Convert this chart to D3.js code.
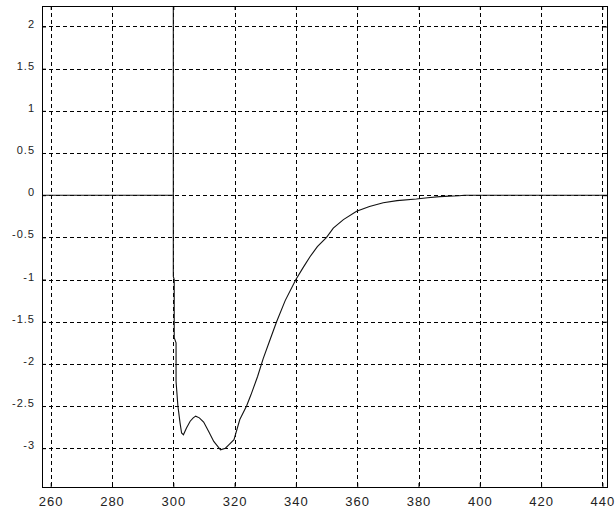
<!DOCTYPE html>
<html>
<head>
<meta charset="utf-8">
<script src="https://cdn.jsdelivr.net/npm/d3@7"></script>
<style>
  body { margin: 0; background: #fff; }
  svg { display: block; }
  .tick text { font-family: "Liberation Sans", Arial, sans-serif; fill: #222; }
</style>
</head>
<body>
<div id="chart"></div>
<script>
// tick values
let xTicks = [260, 280, 300, 320, 340, 360, 380, 400, 420, 440];
let yTicks = [2, 1.5, 1, 0.5, 0, -0.5, -1, -1.5, -2, -2.5, -3];

// curve
let curveX = [257, 300, 300, 300, 300.3, 300.3, 300.9, 300.9, 301.5, 302.2, 302.7, 303.3, 304.3, 305.5, 306.5,
    307.3, 308.5, 309.9, 311.5, 313.2, 315.4, 317, 318.1, 319.8, 321.7, 323.9, 325.3, 327.5, 329.3, 331.5,
    333.7, 336.5, 340.0, 342.5, 344.6, 347, 350.0, 352.2, 355.5, 359.8, 364, 368.5, 373, 379.3, 383,
    386.9, 390, 393.2, 395, 442];
let curveY = [0, 0, 10, -0.964, -1.0, -1.69, -1.75, -2.21, -2.5, -2.7, -2.82, -2.84, -2.76, -2.68, -2.64,
    -2.62, -2.64, -2.69, -2.8, -2.92, -3.02, -3.0, -2.96, -2.9, -2.66, -2.5, -2.37, -2.15, -1.94, -1.72,
    -1.5, -1.25, -1.0, -0.85, -0.73, -0.61, -0.5, -0.39, -0.29, -0.19, -0.135, -0.09, -0.065, -0.045, -0.03,
    -0.017, -0.011, -0.006, 0, 0];

const W = 615, H = 510;
const margin = { top: 6, left: 42, right: 8, bottom: 23 };
const iw = W - margin.left - margin.right;
const ih = H - margin.top - margin.bottom;

const svg = d3.select('#chart')
    .append('svg')
    .attr('width', W)
    .attr('height', H);

const g = svg.append('g')
    .attr('transform', 'translate(' + margin.left + ',' + margin.top + ')');

const x = d3.scaleLinear().domain([257.16, 441.5]).range([0, iw]);
const y = d3.scaleLinear().domain([-3.46, 2.243]).range([ih, 0]);

// dashed grid
g.append('g')
    .selectAll('line')
    .data(xTicks)
    .enter()
    .append('line')
    .attr('x1', d => Math.round(x(d)) + 0.5)
    .attr('x2', d => Math.round(x(d)) + 0.5)
    .attr('y1', 0)
    .attr('y2', ih)
    .attr('stroke', '#000')
    .attr('stroke-dasharray', '4,3');

g.append('g')
    .selectAll('line')
    .data(yTicks)
    .enter()
    .append('line')
    .attr('x1', 0)
    .attr('x2', iw)
    .attr('y1', d => Math.round(y(d)) + 0.5)
    .attr('y2', d => Math.round(y(d)) + 0.5)
    .attr('stroke', '#000')
    .attr('stroke-dasharray', '4,3');

// curve
svg.append('defs').append('clipPath')
    .attr('id', 'clip')
    .append('rect')
    .attr('width', iw)
    .attr('height', ih);

const line = d3.line()
    .x(d => x(d[0]))
    .y(d => y(d[1]));

g.append('path')
    .datum(d3.zip(curveX, curveY))
    .attr('clip-path', 'url(#clip)')
    .attr('fill', 'none')
    .attr('stroke', '#111')
    .attr('stroke-width', 1.1)
    .attr('d', line);

// axes, ticks pointing inward
g.append('g')
    .attr('transform', 'translate(0,' + ih + ')')
    .call(d3.axisBottom(x).tickValues(xTicks).tickSizeInner(-4).tickSizeOuter(0).tickPadding(9.5))
    .call(a => a.select('.domain').remove())
    .selectAll('text')
    .style('font-size', '13px')
    .style('letter-spacing', '1px');

g.append('g')
    .call(d3.axisTop(x).tickValues(xTicks).tickSizeInner(-4).tickSizeOuter(0).tickFormat(''))
    .call(a => a.select('.domain').remove());

g.append('g')
    .call(d3.axisLeft(y).tickValues(yTicks).tickSizeInner(-4).tickSizeOuter(0).tickPadding(7).tickFormat(d => String(d)))
    .call(a => a.select('.domain').remove())
    .selectAll('text')
    .attr('dy', '0.05em')
    .style('font-size', '11px')
    .style('letter-spacing', '1px');

g.append('g')
    .attr('transform', 'translate(' + iw + ',0)')
    .call(d3.axisRight(y).tickValues(yTicks).tickSizeInner(-4).tickSizeOuter(0).tickFormat(''))
    .call(a => a.select('.domain').remove());

g.selectAll('.tick line').attr('stroke', '#000');

// frame
g.append('rect')
    .attr('x', 0.5)
    .attr('y', 0.5)
    .attr('width', iw)
    .attr('height', ih)
    .attr('fill', 'none')
    .attr('stroke', '#000');
</script>
</body>
</html>
